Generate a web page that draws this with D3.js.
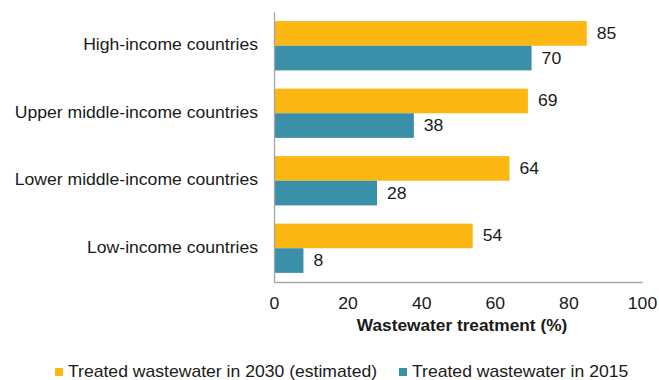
<!DOCTYPE html>
<html><head><meta charset="utf-8">
<script src="https://cdn.jsdelivr.net/npm/d3@7"></script>
<style>body{margin:0;background:#fff}text{font-family:"Liberation Sans",Arial,sans-serif;fill:#1a1a1a}</style>
</head><body><svg id="c" width="659" height="380"></svg>
<script>
const categories = ["High-income countries","Upper middle-income countries","Lower middle-income countries","Low-income countries"];
const series = ["Treated wastewater in 2030 (estimated)","Treated wastewater in 2015"];
const values2030 = [85, 69, 64, 54];
const values2015 = [70, 38, 28, 8];
const xTicks = [0, 20, 40, 60, 80, 100];
const colors = ["#FDB713", "#3A90A8"];

const SX = 1.1; // horizontal stretch of text
const FS = 16;
const svg = d3.select("#c");
const m = {l: 274, r: 17, t: 12, b: 98};
const W = 659, H = 380;
const x = d3.scaleLinear().domain([0, 100]).range([m.l, W - m.r]);
const y = d3.scaleBand().domain(categories).range([m.t, H - m.b]).paddingInner(0.27).paddingOuter(0.135);
const ys = d3.scaleBand().domain(series).range([0, y.bandwidth()]);

function stext(parent, px, py, str, sx) {
  return parent.append("text").attr("transform", `translate(${px},${py}) scale(${sx},1)`).text(str);
}

const data = categories.map((c, i) => ({c, v: [values2030[i], values2015[i]]}));
const g = svg.append("g");
data.forEach(d => {
  series.forEach((s, j) => {
    g.append("rect").attr("x", x(0)).attr("y", y(d.c) + ys(s))
      .attr("width", x(d.v[j]) - x(0)).attr("height", ys.bandwidth())
      .attr("fill", colors[j]);
    stext(g, x(d.v[j]) + 10, y(d.c) + ys(s) + ys.bandwidth() / 2, d.v[j], SX)
      .attr("dy", "0.34em").attr("font-size", FS);
  });
});

// axes
const xa = svg.append("g").attr("transform", `translate(0,${H - m.b})`)
  .call(d3.axisBottom(x).tickValues(xTicks).tickSize(0).tickPadding(15.5));
xa.select(".domain").attr("stroke", "#a6a6a6").attr("stroke-width", 1.3);
xa.selectAll("text").attr("font-size", FS).attr("fill", "#1a1a1a")
  .style("font-family", '"Liberation Sans",Arial,sans-serif').attr("transform", `scale(${SX},1)`);

const ya = svg.append("g").attr("transform", `translate(${m.l},0)`)
  .call(d3.axisLeft(y).tickSize(0).tickPadding(16 / SX));
ya.select(".domain").attr("stroke", "#a6a6a6").attr("stroke-width", 1.3);
ya.selectAll("text").attr("font-size", FS).attr("fill", "#1a1a1a").attr("dy", "0.28em")
  .style("font-family", '"Liberation Sans",Arial,sans-serif').attr("transform", `scale(${SX},1)`);

stext(svg, 462, 331, "Wastewater treatment (%)", 1.08).attr("text-anchor", "middle")
  .attr("font-size", FS).attr("font-weight", "bold");

// legend
const legX = [55, 399];
series.forEach((s, j) => {
  svg.append("rect").attr("x", legX[j]).attr("y", 368).attr("width", 8).attr("height", 8).attr("fill", colors[j]);
  stext(svg, legX[j] + 13, 377, s, SX).attr("font-size", FS);
});
</script></body></html>
